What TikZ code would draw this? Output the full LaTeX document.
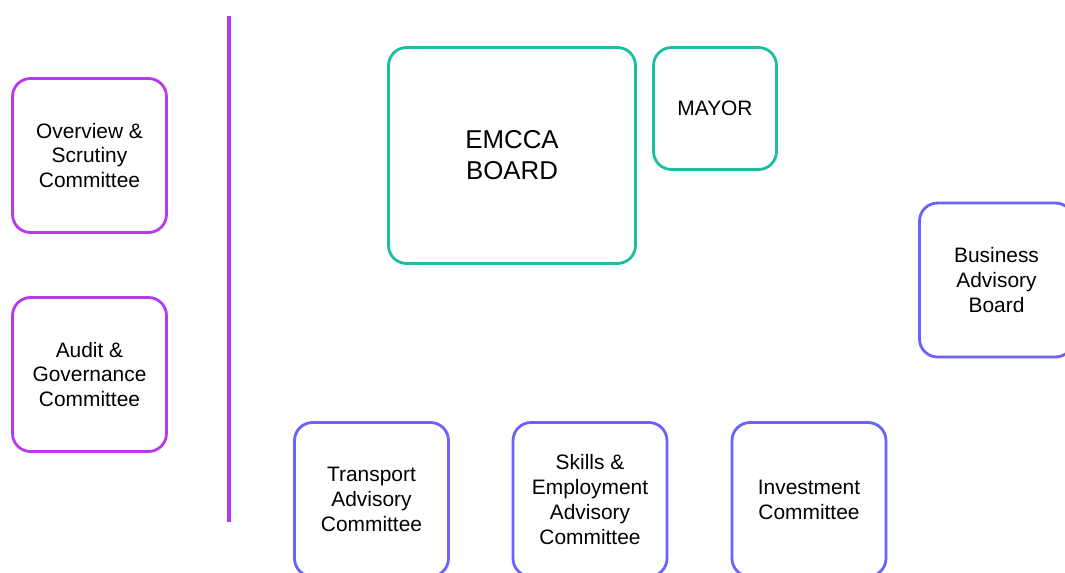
\documentclass[tikz,border=0pt]{standalone}
\usepackage{fontspec}
\setmainfont{Liberation Sans}
\definecolor{scrutiny}{HTML}{B83AF0}
\definecolor{board}{HTML}{1BBFA0}
\definecolor{advisory}{HTML}{6A62FA}
\begin{document}
\begin{tikzpicture}[x=0.02cm,y=-0.02cm]
 \tikzstyle{unit}=[draw,rounded corners=3.6mm,line width=1.6pt,align=center,inner sep=0pt,font=\fontsize{11.9}{14.2}\selectfont];
    \tikzstyle{scrutinybox}=[unit,scrutiny,text=black,minimum width=3.08cm,minimum height=3.08cm];
    \tikzstyle{advisorybox}=[unit,advisory,text=black,minimum width=3.08cm,minimum height=3.08cm];
    \useasboundingbox (0,0) rectangle (1065,572);
    \clip (0,0) rectangle (1065,572);
    \node at (89.5, 155.5) (os) [scrutinybox] {Overview \&\\Scrutiny\\Committee};
    \node at (89.5, 374.5) (ag) [scrutinybox] {Audit \&\\Governance\\Committee};
    \coordinate (divtop) at (229, 16);
    \coordinate (divbot) at (229, 522);
        \draw[scrutiny,line width=1.8pt] (divtop) -- (divbot);
    \node at (512, 155.5) (board) [unit,board,text=black,minimum width=4.94cm,minimum height=4.32cm,font=\fontsize{14.7}{17.6}\selectfont] {EMCCA\\BOARD};
    \node at (715, 108.5) (mayor) [unit,board,text=black,minimum width=2.46cm,minimum height=2.44cm,font=\fontsize{11.9}{14.2}\selectfont] {MAYOR};
    \node at (996.5, 280) (bab) [advisorybox] {Business\\Advisory\\Board};
    \node at (371.5, 499.5) (tac) [advisorybox] {Transport\\Advisory\\Committee};
    \node at (590, 499.5) (seac) [advisorybox] {Skills \&\\Employment\\Advisory\\Committee};
    \node at (809, 499.5) (ic) [advisorybox] {Investment\\Committee};
\end{tikzpicture}
\end{document}
